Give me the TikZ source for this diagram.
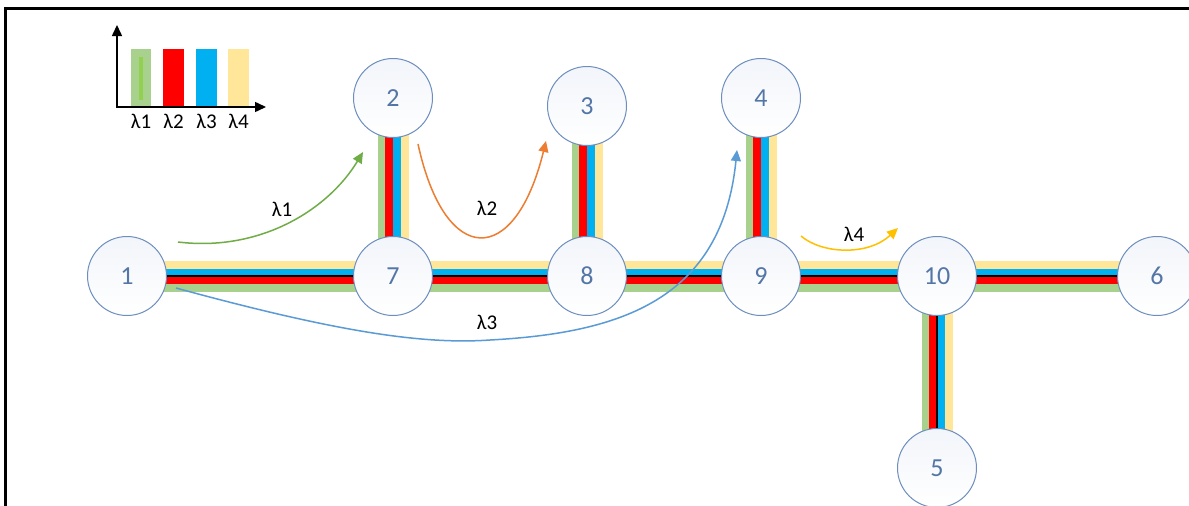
\documentclass[tikz,border=0pt]{standalone}
\usepackage{fontspec}
\setmainfont{Carlito}
\usetikzlibrary{arrows.meta,backgrounds}
\definecolor{bgreen}{HTML}{A9D18E}
\definecolor{bgreenin}{HTML}{92D050}
\definecolor{bred}{HTML}{FF0000}
\definecolor{bblue}{HTML}{00B0F0}
\definecolor{byellow}{HTML}{FFE699}
\definecolor{nodeedge}{RGB}{109,142,190}
\definecolor{nodetop}{RGB}{242,245,250}
\definecolor{nodetext}{RGB}{84,118,166}
\definecolor{agreen}{HTML}{70AD47}
\definecolor{aorange}{HTML}{ED7D31}
\definecolor{ablue}{HTML}{5B9BD5}
\definecolor{agold}{HTML}{FFC000}
\tikzset{
  netnode/.style={circle, draw=nodeedge, line width=1pt, minimum size=79pt, inner sep=0pt,
    top color=nodetop, bottom color=white, text=nodetext, font=\fontsize{26}{26}\selectfont},
  band/.style={line width=8pt},
  lamlabel/.style={font=\fontsize{21}{21}\selectfont, text=black, inner sep=0pt},
  flow/.style={line width=1.5pt, -{Triangle[length=11pt,width=10pt]}},
  axis/.style={line width=1.5pt, -{Triangle[length=11pt,width=10pt]}},
}
\newcommand\HBundle[2]{%
  \draw[band,bgreen] ([yshift=-11.5pt]#1.center) -- ([yshift=-11.5pt]#2.center);
  \draw[band,bred] ([yshift=-4pt]#1.center) -- ([yshift=-4pt]#2.center);
  \draw[band,bblue] ([yshift=4pt]#1.center) -- ([yshift=4pt]#2.center);
  \draw[band,byellow] ([yshift=11.5pt]#1.center) -- ([yshift=11.5pt]#2.center);
  \draw[line width=2pt,black] (#1.center) -- (#2.center);}
\newcommand\VBundle[2]{%
  \draw[band,bgreen] ([xshift=-11.5pt]#1.center) -- ([xshift=-11.5pt]#2.center);
  \draw[band,bred] ([xshift=-4pt]#1.center) -- ([xshift=-4pt]#2.center);
  \draw[band,bblue] ([xshift=4pt]#1.center) -- ([xshift=4pt]#2.center);
  \draw[band,byellow] ([xshift=11.5pt]#1.center) -- ([xshift=11.5pt]#2.center);}
\begin{document}
\begin{tikzpicture}[x=1pt,y=-1pt]
\useasboundingbox (0,0) rectangle (1189,506);
\clip (0,0) rectangle (1189,506);
% frame
\draw[line width=3pt] (5.5,512) -- (5.5,8.5) -- (1200,8.5);
% nodes
\node[netnode] (n1) at (127,276) {1};
\node[netnode] (n2) at (393,98) {2};
\node[netnode] (n3) at (587,106) {3};
\node[netnode] (n4) at (761,98) {4};
\node[netnode] (n7) at (393,276) {7};
\node[netnode] (n8) at (587,276) {8};
\node[netnode] (n9) at (761,276) {9};
\node[netnode] (n10) at (937,276) {10};
\node[netnode] (n6) at (1157,276) {6};
\node[netnode] (n5) at (937,468) {5};
% links
\begin{scope}[on background layer]
  \fill[white] (-10,-10) rectangle (1210,520);
  \HBundle{n1}{n7}
  \HBundle{n7}{n8}
  \HBundle{n8}{n9}
  \HBundle{n9}{n10}
  \HBundle{n10}{n6}
  \VBundle{n2}{n7}
  \VBundle{n3}{n8}
  \VBundle{n4}{n9}
  \VBundle{n10}{n5}
  \draw[line width=2pt,black] (n10.center) -- (n5.center);
\end{scope}
% legend
\coordinate (ax0) at (117,107);
\coordinate (axy) at (117,25);
\coordinate (axx) at (266,107);
\node[draw=none, fill=bgreen, minimum width=20pt, minimum height=58pt, inner sep=0pt] (lg1) at (141,78) {};
\node[draw=none, fill=bgreenin, minimum width=4pt, minimum height=43pt, inner sep=0pt] (lg1i) at (141,78.5) {};
\node[draw=none, fill=bred, minimum width=21pt, minimum height=58pt, inner sep=0pt] (lg2) at (173.5,78) {};
\node[draw=none, fill=bblue, minimum width=21pt, minimum height=58pt, inner sep=0pt] (lg3) at (206.5,78) {};
\node[draw=none, fill=byellow, minimum width=21pt, minimum height=58pt, inner sep=0pt] (lg4) at (238.5,78) {};
\draw[axis] (ax0) -- (axy);
\draw[axis] ([xshift=-0.75pt]ax0) -- (axx);
\node[lamlabel] (ll1) at (141,121) {λ1};
\node[lamlabel] (ll2) at (173.5,121) {λ2};
\node[lamlabel] (ll3) at (206.5,121) {λ3};
\node[lamlabel] (ll4) at (238.5,121) {λ4};
% lightpaths
\coordinate (a1s) at (178,242);
\coordinate (a1e) at (363,152);
\draw[flow, agreen] (a1s) .. controls (260,252) and (328,210) .. (a1e);
\node[lamlabel] (t1) at (282,209) {λ1};
\coordinate (a2s) at (418,144);
\coordinate (a2e) at (546,141);
\draw[flow, aorange] (a2s) .. controls (445,268) and (515,268) .. (a2e);
\node[lamlabel] (t2) at (487,208) {λ2};
\coordinate (a3s) at (176,288);
\coordinate (a3m) at (490,340);
\coordinate (a3e) at (737,150);
\draw[flow, ablue] (a3s) .. controls (330,330) and (420,345) .. (a3m) .. controls (620,333) and (722,300) .. (a3e);
\node[lamlabel] (t3) at (487,322) {λ3};
\coordinate (a4s) at (801,236);
\coordinate (a4e) at (898,228);
\draw[flow, agold] (a4s) .. controls (822,254) and (868,256) .. (a4e);
\node[lamlabel] (t4) at (854,234) {λ4};
\end{tikzpicture}
\end{document}
